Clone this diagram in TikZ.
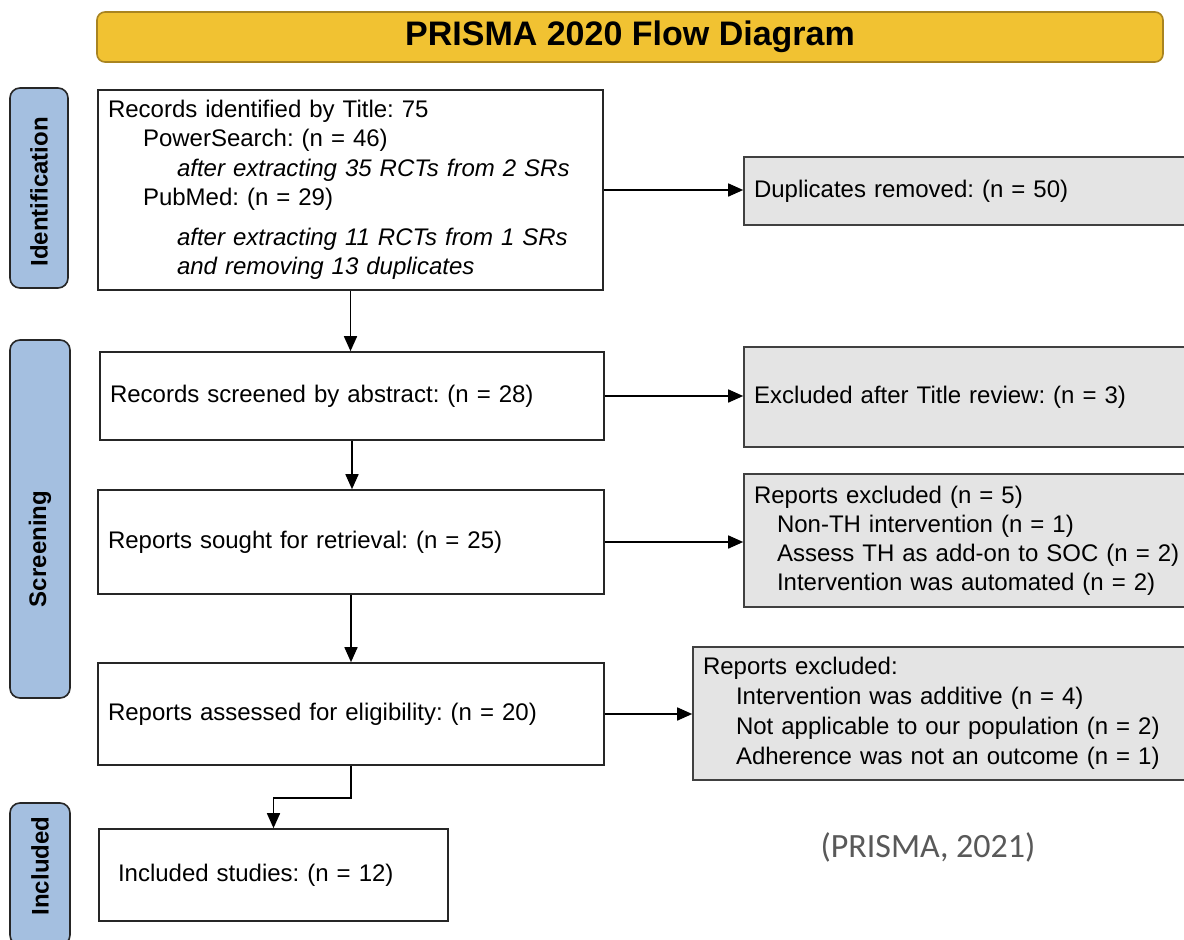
\documentclass[tikz,border=0pt]{standalone}
\usepackage{fontspec}
\setmainfont{Liberation Sans}
\newfontfamily\citefont{Carlito}
\usepackage{tikz}
\usepackage{xcolor}
\usetikzlibrary{arrows.meta}
\definecolor{titleyellow}{HTML}{F1C232}
\definecolor{titleedge}{HTML}{A98420}
\definecolor{sideblue}{HTML}{A4BFE0}
\definecolor{boxgray}{HTML}{E4E4E4}
\definecolor{citegray}{HTML}{595959}
\frenchspacing

\begin{document}
\begin{tikzpicture}[x=1pt, y=-1pt, line width=1.6pt,
    box/.style={draw=black!85, fill=white, rectangle, align=left, inner xsep=10pt, inner ysep=4pt, font=\fontsize{24}{29.3}\selectfont},
    graybox/.style={box, fill=boxgray, draw=black!75},
    side/.style={draw=black!85, fill=sideblue, rounded corners=10pt, minimum width=60pt},
    sidetext/.style={rotate=90, font=\fontsize{24}{29}\selectfont\bfseries},
    arr/.style={-{Triangle[length=15pt, width=13pt]}}]
                \clip (0,0) rectangle (1184,940);
                \fill[white] (0,0) rectangle (1184,940);

                \node[draw=titleedge, fill=titleyellow, rounded corners=8pt, minimum width=1066pt, minimum height=50pt, font=\fontsize{34}{40}\selectfont\bfseries] (title) at (630,37) {PRISMA 2020 Flow Diagram};

                \node[side, minimum width=58pt, minimum height=200pt] (ident) at (39,188) {};
                \node[side, minimum height=358pt] (screen) at (40,519) {};
                \node[side, minimum height=142pt] (incl) at (40,874) {};
                \node[sidetext] (identtext) at (39,192) {Identification};
                \node[sidetext] (screentext) at (40,549) {Screening};
                \node[sidetext] (incltext) at (40,866) {Included};

                \node[box, text width=485pt, minimum height=200pt] (records) at (350.5,190) {Records identified by Title: 75\\
                    \hspace*{35pt}PowerSearch: (n = 46)\\
                    \hspace*{69pt}\textit{after extracting 35 RCTs from 2 SRs}\\
                    \hspace*{35pt}PubMed: (n = 29)\\[11pt]
                    \hspace*{69pt}\textit{after extracting 11 RCTs from 1 SRs}\\
                    \hspace*{69pt}\textit{and removing 13 duplicates}};
                \node[box, text width=484pt, minimum height=88pt] (screened) at (352,396) {Records screened by abstract: (n = 28)};
                \node[box, text width=486pt, minimum height=104pt] (sought) at (351,542) {Reports sought for retrieval: (n = 25)};
                \node[box, text width=486pt, minimum height=102pt] (assessed) at (351,714) {Reports assessed for eligibility: (n = 20)};
                \node[box, inner xsep=19pt, text width=311pt, minimum height=92pt] (included) at (273.5,875) {Included studies: (n = 12)};

                \node[graybox, text width=440pt, minimum height=68pt] (dups) at (974,191) {Duplicates removed: (n = 50)};
                \node[graybox, text width=440pt, minimum height=100pt] (titlerev) at (974,397) {Excluded after Title review: (n = 3)};
                \node[graybox, text width=440pt, minimum height=133pt, font=\fontsize{24}{29}\selectfont] (excla) at (974,540.5) {Reports excluded (n = 5)\\
                    \hspace*{23pt}Non-TH intervention (n = 1)\\
                    \hspace*{23pt}Assess TH as add-on to SOC (n = 2)\\
                    \hspace*{23pt}Intervention was automated (n = 2)};
                \node[graybox, text width=491pt, minimum height=133pt, font=\fontsize{24}{30}\selectfont] (exclb) at (948.5,713.5) {Reports excluded:\\
                    \hspace*{33pt}Intervention was additive (n = 4)\\
                    \hspace*{33pt}Not applicable to our population (n = 2)\\
                    \hspace*{33pt}Adherence was not an outcome (n = 1)};

                \node[text=citegray, font=\citefont\fontsize{34}{40}\selectfont] (cite) at (928,847) {(PRISMA, 2021)};

                \draw[arr] (records.south) -- (records.south |- screened.north);
                \draw[arr] (screened.south) -- (screened.south |- sought.north);
                \draw[arr] (sought.south) -- (sought.south |- assessed.north);
                \draw[arr] (assessed.south) -- ++(0,32) -| (included.north);

                \draw[arr] (records.east) -- (records.east -| dups.west);
                \draw[arr] (screened.east) -- (screened.east -| titlerev.west);
                \draw[arr] (sought.east) -- (sought.east -| excla.west);
                \draw[arr] (assessed.east) -- (assessed.east -| exclb.west);
            \end{tikzpicture}
\end{document}
